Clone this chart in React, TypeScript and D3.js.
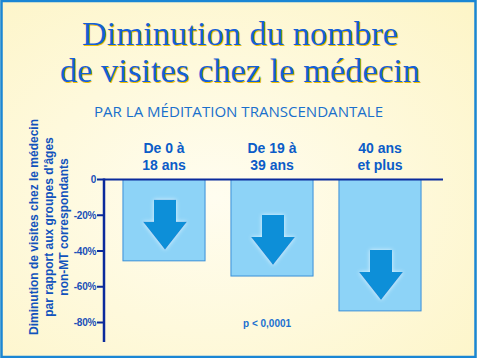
import React from "react";
import * as d3 from "d3";

const categories = ["De 0 à|18 ans", "De 19 à|39 ans", "40 ans|et plus"];
const values = [-45.5, -54, -73.5];
const yTicks = [0, -20, -40, -60, -80];
const yTickLabels = ["0", "-20%", "-40%", "-60%", "-80%"];
const titleLines = ["Diminution du nombre", "de visites chez le médecin"];
const subtitle = "PAR LA MÉDITATION TRANSCENDANTALE";
const yLabelLines = [
  "Diminution de visites chez le médecin",
  "par rapport aux groupes d'âges",
  "non-MT correspondants",
];
const note = "p < 0,0001";

const W = 477;
const H = 358;

export default function App() {
  const y = d3.scaleLinear().domain([0, -80]).range([179.5, 322.5]);
  const x = d3
    .scaleBand<string>()
    .domain(categories)
    .range([110, 434])
    .paddingInner(0.24)
    .paddingOuter(0.12);

  const axisX = 104;
  const sans = "'Liberation Sans', Arial, sans-serif";

  const arrowPath = (cx: number, tip: number) => {
    const hw = 22;
    const sw = 11;
    const headH = 28;
    const shaftH = 22;
    const headTop = tip - headH;
    const top = headTop - shaftH;
    return `M${cx - sw},${top}H${cx + sw}V${headTop}H${cx + hw}L${cx},${tip}L${cx - hw},${headTop}H${cx - sw}Z`;
  };

  return (
    <svg
      width={W}
      height={H}
      style={{ position: "absolute", left: 0, top: 0, display: "block" }}
    >
      <defs>
        <radialGradient id="bg" cx="45%" cy="55%" r="75%">
          <stop offset="0%" stopColor="#fffdf0" />
          <stop offset="100%" stopColor="#fdf5c8" />
        </radialGradient>
        <filter id="glow" x="-30%" y="-30%" width="160%" height="160%">
          <feGaussianBlur in="SourceAlpha" stdDeviation="2" result="b" />
          <feFlood floodColor="#e8f8ff" floodOpacity="0.9" />
          <feComposite in2="b" operator="in" result="g" />
          <feMerge>
            <feMergeNode in="g" />
            <feMergeNode in="SourceGraphic" />
          </feMerge>
        </filter>
      </defs>
      <rect x={0} y={0} width={W} height={H} fill="url(#bg)" />
      <rect
        x={1.5}
        y={1}
        width={W - 3}
        height={H - 2}
        fill="none"
        stroke="#1a86d4"
        strokeWidth={2.5}
      />

      {titleLines.map((t, i) => (
        <g key={t}>
          <text
            x={241.2}
            y={46.2 + i * 37}
            textAnchor="middle"
            fontFamily="'Liberation Serif', 'Times New Roman', serif"
            fontSize={34.5}
            fill="#f2c000"
          >
            {t}
          </text>
          <text
            x={240}
            y={45 + i * 37}
            textAnchor="middle"
            fontFamily="'Liberation Serif', 'Times New Roman', serif"
            fontSize={34.5}
            fill="#1560d6"
          >
            {t}
          </text>
        </g>
      ))}

      <text
        x={238.5}
        y={117}
        textAnchor="middle"
        fontFamily="'Open Sans', 'Noto Sans', sans-serif"
        fontSize={14.5}
        fill="#1a70cc"
        textLength={289}
        lengthAdjust="spacingAndGlyphs"
      >
        {subtitle}
      </text>

      {yLabelLines.map((t, i) => (
        <text
          key={t}
          transform={`translate(${37.5 + i * 15},227) rotate(-90)`}
          textAnchor="middle"
          fontFamily={sans}
          fontWeight="bold"
          fontSize={12}
          fill="#1253bd"
        >
          {t}
        </text>
      ))}

      {categories.map((c, i) => {
        const bx = x(c)!;
        const bw = x.bandwidth();
        const cx = bx + bw / 2;
        const [l1, l2] = c.split("|");
        return (
          <g key={c}>
            <text
              x={cx}
              y={153}
              textAnchor="middle"
              fontFamily={sans}
              fontWeight="bold"
              fontSize={14}
              fill="#0b5cc8"
            >
              {l1}
            </text>
            <text
              x={cx}
              y={170}
              textAnchor="middle"
              fontFamily={sans}
              fontWeight="bold"
              fontSize={14}
              fill="#0b5cc8"
            >
              {l2}
            </text>
            <rect
              x={bx}
              y={y(0)}
              width={bw}
              height={y(values[i]) - y(0)}
              fill="#8dd3f7"
              stroke="#3a8fd8"
              strokeWidth={1}
            />
            <path
              d={arrowPath(cx + 1, y(values[i]) - 11)}
              fill="#0a8fd8"
              filter="url(#glow)"
            />
          </g>
        );
      })}

      <line
        x1={axisX}
        x2={443}
        y1={y(0)}
        y2={y(0)}
        stroke="#0a2a9c"
        strokeWidth={2}
      />
      <line
        x1={axisX}
        x2={axisX}
        y1={y(0) - 1}
        y2={342}
        stroke="#0a2a9c"
        strokeWidth={2.5}
      />
      {yTicks.map((t, i) => (
        <g key={t}>
          <line
            x1={axisX - 7}
            x2={axisX}
            y1={y(t)}
            y2={y(t)}
            stroke="#0a2a9c"
            strokeWidth={2}
          />
          <text
            x={axisX - 8}
            y={y(t) + 3.5}
            textAnchor="end"
            fontFamily={sans}
            fontWeight="bold"
            fontSize={10}
            fill="#1a4fb8"
            letterSpacing={-0.3}
          >
            {yTickLabels[i]}
          </text>
        </g>
      ))}

      <text
        x={243}
        y={327}
        fontFamily={sans}
        fontWeight="bold"
        fontSize={10}
        fill="#1a70d0"
      >
        {note}
      </text>
    </svg>
  );
}
